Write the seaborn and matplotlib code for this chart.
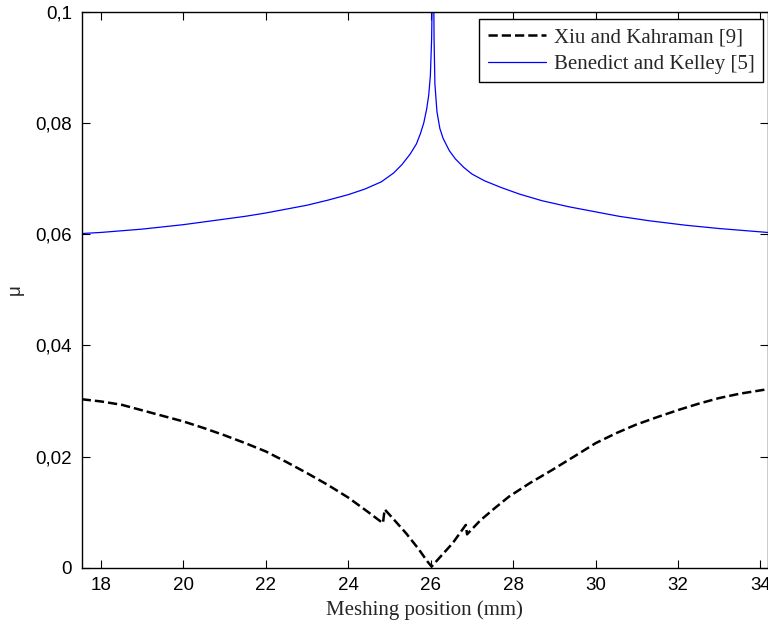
import matplotlib
matplotlib.use("Agg")
import matplotlib.pyplot as plt
import seaborn as sns
import pandas as pd

# ---- data ----
xk_x = [17.53, 18.0, 18.5, 19.0, 19.5, 20.0, 20.5, 21.0, 21.5, 22.0, 22.5, 23.0, 23.5,
        24.0, 24.5, 24.84, 24.88, 25.1, 25.4, 25.7, 25.92, 26.02, 26.2, 26.53, 26.85,
        26.88, 27.2, 27.55, 27.9, 28.4, 28.95, 29.5, 30.0, 30.5, 30.97, 31.5, 32.02,
        32.5, 32.99, 33.5, 34.17]
xk_y = [0.0303, 0.0299, 0.0293, 0.0283, 0.0273, 0.0263, 0.0251, 0.0238, 0.0224, 0.0209,
        0.0190, 0.0170, 0.0149, 0.0126, 0.0099, 0.0080, 0.0105, 0.0087, 0.0062, 0.0034,
        0.0011, 0.0002, 0.0017, 0.0044, 0.0077, 0.0060, 0.0085, 0.0107, 0.0128, 0.0152,
        0.0176, 0.0201, 0.0224, 0.0242, 0.0257, 0.0271, 0.0284, 0.0295, 0.0305, 0.0313,
        0.0321]

bk_x = [17.53, 18.0, 18.5, 19.0, 19.5, 20.0, 20.5, 21.0, 21.5, 22.0, 22.5, 23.0, 23.5,
        24.0, 24.4, 24.8, 25.1, 25.3, 25.5, 25.65, 25.75, 25.83, 25.9, 25.95, 25.99,
        26.02, 26.04, 26.055, 26.07, 26.08, 26.1, 26.15, 26.22, 26.3, 26.45, 26.6, 26.8,
        27.0, 27.3, 27.7, 28.15, 28.7, 29.36, 30.0, 30.57, 31.3, 32.18, 33.0, 34.17]
bk_y = [0.0601, 0.0603, 0.0606, 0.0609, 0.0613, 0.0617, 0.0622, 0.0627, 0.0632, 0.0638,
        0.0645, 0.0652, 0.0661, 0.0671, 0.0681, 0.0694, 0.0710, 0.0725, 0.0744, 0.0762,
        0.0781, 0.0800, 0.0825, 0.0850, 0.0885, 0.0950, 0.1050, 0.1400, 0.1050, 0.0950,
        0.0870, 0.0820, 0.0790, 0.0772, 0.0750, 0.0735, 0.0720, 0.0708, 0.0696, 0.0684,
        0.0672, 0.0660, 0.0649, 0.0640, 0.0632, 0.0624, 0.0616, 0.0610, 0.0603]

x_ticks = [18, 20, 22, 24, 26, 28, 30, 32, 34]
x_ticklabels = ["18", "20", "22", "24", "26", "28", "30", "32", "34"]
y_ticks = [0, 0.02, 0.04, 0.06, 0.08, 0.1]
y_ticklabels = ["0", "0,02", "0,04", "0,06", "0,08", "0,1"]

label_xk = "Xiu and Kahraman [9]"
label_bk = "Benedict and Kelley [5]"

# ---- style ----
sns.set_style("ticks")
plt.rcParams["font.family"] = ["Liberation Sans", "DejaVu Sans"]

fig = plt.figure(figsize=(7.68, 6.25), dpi=100)
ax = fig.add_axes([81.7 / 768, 1 - 567.7 / 625, (767.5 - 81.7) / 768, (567.7 - 11.7) / 625])

df_xk = pd.DataFrame({"x": xk_x, "y": xk_y})
df_bk = pd.DataFrame({"x": bk_x, "y": bk_y})

sns.lineplot(data=df_xk, x="x", y="y", ax=ax, sort=False, estimator=None,
             color="black", linestyle="--", linewidth=1.8, label=label_xk)
sns.lineplot(data=df_bk, x="x", y="y", ax=ax, sort=False, estimator=None,
             color="#0000ff", linewidth=0.9, label=label_bk)

ax.set_xlim(17.53, 34.17)
ax.set_ylim(0, 0.1)
ax.set_xticks(x_ticks)
ax.set_xticklabels(x_ticklabels)
ax.set_yticks(y_ticks)
ax.set_yticklabels(y_ticklabels)

ax.tick_params(axis="both", which="major", direction="in", length=6, width=0.8,
               top=True, right=True, bottom=True, left=True,
               labelsize=13.5, color="black", labelcolor="black", pad=7)
for s in ax.spines.values():
    s.set_color("black")
    s.set_linewidth(1.0)

ax.set_xlabel("Meshing position (mm)", family=["Liberation Serif", "DejaVu Serif"],
              fontsize=15, labelpad=4)
ax.set_ylabel("\u03bc", fontsize=13.5, labelpad=8)

leg = ax.legend(loc="upper right", bbox_to_anchor=(763.3 / 768, 1 - 19.3 / 625),
                bbox_transform=fig.transFigure, borderaxespad=0,
                prop={"family": ["Liberation Serif", "DejaVu Serif"], "size": 15},
                frameon=True, fancybox=False, shadow=False, framealpha=1,
                edgecolor="black", handlelength=2.8, handletextpad=0.4,
                labelspacing=0.35, borderpad=0.4)
leg.get_frame().set_linewidth(1.0)

fig.savefig("out.png", dpi=100)
